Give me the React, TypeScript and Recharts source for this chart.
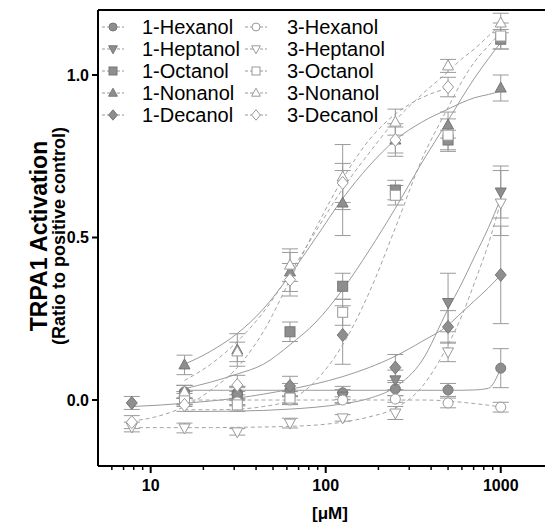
import { ComposedChart, Scatter, Line, XAxis, YAxis, ErrorBar, ReferenceLine } from 'recharts';

// concentrations (µM)
const concFrom15 = [15.6, 31.25, 62.5, 125, 250, 500, 1000];
const concFrom8 = [7.8, 15.6, 31.25, 62.5, 125, 250, 500, 1000];
const concTo500 = [7.8, 15.6, 31.25, 62.5, 125, 250, 500];
const curveX = [7.8, 11, 15.6, 22, 31.25, 44, 62.5, 88, 125, 177, 250, 354, 500, 600, 707, 850, 1000];

// measured means and errors
const hex1 = [0.025, 0.022, 0.031, 0.022, 0.034, 0.031, 0.098];
const hex1Err = [0.02, 0.02, 0.02, 0.02, 0.02, 0.02, 0.06];
const hep1 = [0.0, 0.006, 0.006, 0.012, 0.062, 0.3, 0.64];
const hep1Err = [0.02, 0.02, 0.02, 0.02, 0.03, 0.09, 0.08];
const oct1 = [0.015, 0.012, 0.21, 0.35, 0.646, 0.8, 1.11];
const oct1Err = [0.03, 0.03, 0.03, 0.04, 0.03, 0.03, 0.03];
const non1 = [0.108, 0.154, 0.394, 0.606, 0.8, 0.846, 0.96];
const non1Err = [0.03, 0.05, 0.06, 0.1, 0.05, 0.04, 0.04];
const dec1 = [-0.009, 0.006, 0.018, 0.043, 0.2, 0.1, 0.225, 0.385];
const dec1Err = [0.02, 0.02, 0.02, 0.03, 0.09, 0.04, 0.05, 0.15];

const hex3 = [-0.003, -0.006, 0.0, 0.0, 0.003, -0.009, -0.022];
const hex3Err = [0.01, 0.01, 0.01, 0.01, 0.01, 0.015, 0.015];
const hep3 = [-0.083, -0.086, -0.098, -0.071, -0.055, -0.04, 0.148, 0.606];
const hep3Err = [0.015, 0.015, 0.01, 0.015, 0.01, 0.02, 0.03, 0.1];
const oct3 = [0.006, -0.015, 0.006, 0.27, 0.63, 0.815, 1.12];
const oct3Err = [0.02, 0.02, 0.02, 0.04, 0.03, 0.05, 0.04];
const non3 = [0.025, 0.148, 0.415, 0.686, 0.855, 1.028, 1.16];
const non3Err = [0.02, 0.03, 0.05, 0.1, 0.04, 0.02, 0.03];
const dec3 = [-0.068, -0.015, 0.046, 0.37, 0.668, 0.8, 0.963];
const dec3Err = [0.02, 0.02, 0.03, 0.05, 0.06, 0.04, 0.03];

// fitted curves, aligned with curveX
const hex1Fit = [null, null, 0.03, 0.03, 0.03, 0.03, 0.03, 0.03, 0.03, 0.03, 0.03, 0.03, 0.03, 0.03, 0.031, 0.036, 0.098];
const hep1Fit = [null, null, -0.035, -0.035, -0.034, -0.032, -0.028, -0.022, -0.012, 0.005, 0.04, 0.12, 0.28, 0.36, 0.44, 0.53, 0.62];
const oct1Fit = [null, null, 0.035, 0.055, 0.08, 0.11, 0.17, 0.24, 0.34, 0.46, 0.59, 0.73, 0.86, 0.93, 0.99, 1.05, 1.1];
const non1Fit = [null, null, 0.11, 0.15, 0.205, 0.28, 0.385, 0.5, 0.62, 0.72, 0.8, 0.855, 0.895, 0.915, 0.93, 0.94, 0.95];
const dec1Fit = [-0.02, -0.016, -0.01, -0.003, 0.006, 0.018, 0.033, 0.05, 0.072, 0.1, 0.135, 0.18, 0.23, 0.27, 0.305, 0.345, 0.385];
const hex3Fit = [null, null, 0.0, 0.0, 0.0, 0.0, 0.0, 0.0, 0.0, 0.0, 0.0, 0.0, -0.003, -0.007, -0.011, -0.016, -0.022];
const hep3Fit = [-0.085, -0.085, -0.085, -0.085, -0.084, -0.083, -0.081, -0.077, -0.068, -0.052, -0.025, 0.04, 0.17, 0.26, 0.36, 0.48, 0.61];
const oct3Fit = [null, null, -0.03, -0.03, -0.028, -0.02, 0.0, 0.06, 0.17, 0.33, 0.53, 0.74, 0.9, 0.98, 1.04, 1.09, 1.13];
const non3Fit = [null, null, 0.06, 0.11, 0.18, 0.27, 0.39, 0.52, 0.65, 0.76, 0.86, 0.94, 1.01, 1.05, 1.08, 1.12, 1.155];
const dec3Fit = [-0.065, -0.05, -0.02, 0.03, 0.1, 0.21, 0.37, 0.53, 0.68, 0.8, 0.88, 0.93, 0.96, null, null, null, null];

const xTicks = [6, 7, 8, 9, 10, 20, 30, 40, 50, 60, 70, 80, 90, 100, 200, 300, 400, 500, 600, 700, 800, 900, 1000];
const xMajor = [10, 100, 1000];
const yTicks = [0, 0.5, 1.0];

const FONT = '"Liberation Sans", Arial, sans-serif';

const series = [
  { name: '1-Hexanol', kind: 'circle', filled: true, conc: concFrom15, y: hex1, err: hex1Err, fit: hex1Fit },
  { name: '1-Heptanol', kind: 'down', filled: true, conc: concFrom15, y: hep1, err: hep1Err, fit: hep1Fit },
  { name: '1-Octanol', kind: 'square', filled: true, conc: concFrom15, y: oct1, err: oct1Err, fit: oct1Fit },
  { name: '1-Nonanol', kind: 'up', filled: true, conc: concFrom15, y: non1, err: non1Err, fit: non1Fit },
  { name: '1-Decanol', kind: 'diamond', filled: true, conc: concFrom8, y: dec1, err: dec1Err, fit: dec1Fit },
  { name: '3-Hexanol', kind: 'circle', filled: false, conc: concFrom15, y: hex3, err: hex3Err, fit: hex3Fit },
  { name: '3-Heptanol', kind: 'down', filled: false, conc: concFrom8, y: hep3, err: hep3Err, fit: hep3Fit },
  { name: '3-Octanol', kind: 'square', filled: false, conc: concFrom15, y: oct3, err: oct3Err, fit: oct3Fit },
  { name: '3-Nonanol', kind: 'up', filled: false, conc: concFrom15, y: non3, err: non3Err, fit: non3Fit },
  { name: '3-Decanol', kind: 'diamond', filled: false, conc: concTo500, y: dec3, err: dec3Err, fit: dec3Fit },
];

function Marker({ cx, cy, kind, filled, r = 5 }: any) {
  const fill = filled ? '#8e8e8e' : '#fff';
  const stroke = filled ? '#777' : '#999';
  const p = { fill, stroke, strokeWidth: 1 };
  if (kind === 'circle') return <circle cx={cx} cy={cy} r={r} {...p} />;
  if (kind === 'square') return <rect x={cx - r} y={cy - r} width={2 * r} height={2 * r} {...p} />;
  if (kind === 'up')
    return <path d={`M${cx},${cy - r * 1.2}L${cx + r * 1.1},${cy + r * 0.8}L${cx - r * 1.1},${cy + r * 0.8}Z`} {...p} />;
  if (kind === 'down')
    return <path d={`M${cx},${cy + r * 1.2}L${cx + r * 1.1},${cy - r * 0.8}L${cx - r * 1.1},${cy - r * 0.8}Z`} {...p} />;
  return <path d={`M${cx},${cy - r * 1.3}L${cx + r * 1.1},${cy}L${cx},${cy + r * 1.3}L${cx - r * 1.1},${cy}Z`} {...p} />;
}

function XTick({ x, y, payload }: any) {
  const major = xMajor.includes(payload.value);
  return (
    <g>
      <line x1={x} x2={x} y1={y} y2={y + (major ? 7 : 4)} stroke="#000" strokeWidth={major ? 2 : 1.5} />
      {major && (
        <text x={x} y={y + 25} textAnchor="middle" fontSize={16} fontWeight="bold" fontFamily={FONT} fill="#000">
          {payload.value}
        </text>
      )}
    </g>
  );
}

export default function App() {
  return (
    <div style={{ position: 'absolute', left: 0, top: 0, width: 545, height: 524, overflow: 'hidden', background: '#fff' }}>
      <ComposedChart width={545} height={524} margin={{ top: 10, right: 0, bottom: 0, left: 0 }}>
        <XAxis
          dataKey="x"
          type="number"
          scale="log"
          domain={[5, 1790]}
          allowDataOverflow
          ticks={xTicks}
          interval={0}
          height={58}
          tickSize={0}
          tickMargin={0}
          tickLine={false}
          tick={<XTick />}
          axisLine={{ stroke: '#000', strokeWidth: 2 }}
        />
        <YAxis
          type="number"
          domain={[-0.203, 1.2]}
          allowDataOverflow
          ticks={yTicks}
          width={98}
          tickSize={6}
          tickMargin={3}
          tickFormatter={(v: number) => v.toFixed(1)}
          tick={{ fontSize: 16, fontWeight: 'bold', fill: '#000', fontFamily: FONT }}
          tickLine={{ stroke: '#000', strokeWidth: 2 }}
          axisLine={{ stroke: '#000', strokeWidth: 2 }}
        />
        <ReferenceLine y={1.2} stroke="#000" strokeWidth={2} ifOverflow="visible" />
        {series.map((s) => (
          <Line
            key={s.name + '-fit'}
            data={curveX.map((x, i) => ({ x, y: s.fit[i] })).filter((d) => d.y !== null)}
            dataKey="y"
            type="monotone"
            dot={false}
            activeDot={false}
            stroke={s.filled ? '#9a9a9a' : '#a4a4a4'}
            strokeWidth={1}
            strokeDasharray={s.filled ? undefined : '4 3'}
            isAnimationActive={false}
          />
        ))}
        {series.map((s) => (
          <Scatter
            key={s.name}
            data={s.conc.map((x, i) => ({ x, y: s.y[i], err: s.err[i] }))}
            dataKey="y"
            isAnimationActive={false}
            shape={(p: any) => <Marker cx={p.cx} cy={p.cy} kind={s.kind} filled={s.filled} />}
          >
            <ErrorBar dataKey="err" direction="y" width={8} stroke="#9a9a9a" strokeWidth={1} />
          </Scatter>
        ))}
      </ComposedChart>
      <svg width={545} height={524} style={{ position: 'absolute', left: 0, top: 0, pointerEvents: 'none' }}>
        <text transform="translate(39,236) rotate(-90)" textAnchor="middle" fontSize={23} fontWeight="bold" fontFamily={FONT} fill="#000" dominantBaseline="central">
          TRPA1 Activation
        </text>
        <text transform="translate(59,236) rotate(-90)" textAnchor="middle" fontSize={18} fontWeight="bold" fontFamily={FONT} fill="#000" dominantBaseline="central">
          (Ratio to positive control)
        </text>
        <text x={330} y={519} textAnchor="middle" fontSize={17} fontWeight="bold" fontFamily={FONT} fill="#000">
          [μM]
        </text>
        {series.map((s, i) => {
          const col = i < 5 ? 0 : 1;
          const row = i % 5;
          const cx = col === 0 ? 113 : 256;
          const tx = col === 0 ? 142 : 287;
          const cy = 27 + row * 22;
          return (
            <g key={s.name}>
              <line x1={cx - 11} x2={cx + 11} y1={cy} y2={cy} stroke="#999" strokeWidth={1} strokeDasharray="3 2" />
              <Marker cx={cx} cy={cy} kind={s.kind} filled={s.filled} r={4} />
              <text x={tx} y={cy + 7} fontSize={20} fontFamily={FONT} fill="#000">
                {s.name}
              </text>
            </g>
          );
        })}
      </svg>
    </div>
  );
}
